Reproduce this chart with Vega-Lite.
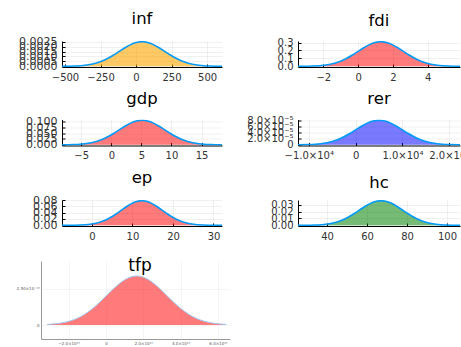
{
  "$schema": "https://vega.github.io/schema/vega-lite/v6.json",
  "background": "white",
  "padding": {"left": 15, "top": 11, "right": 0, "bottom": 0},
  "bounds": "full",
  "spacing": 16,
  "datasets": {
    "inf": [
      {"x": -598, "y": 0.00000075}, {"x": -518, "y": 0.0000055}, {"x": -438, "y": 0.000028}, {"x": -358, "y": 0.00011},
      {"x": -278, "y": 0.000338}, {"x": -238, "y": 0.000541}, {"x": -198, "y": 0.000812}, {"x": -158, "y": 0.001145},
      {"x": -118, "y": 0.001516}, {"x": -78, "y": 0.001887}, {"x": -38, "y": 0.002206}, {"x": 2, "y": 0.002423},
      {"x": 42, "y": 0.0025}, {"x": 82, "y": 0.002423}, {"x": 122, "y": 0.002206}, {"x": 162, "y": 0.001887},
      {"x": 202, "y": 0.001516}, {"x": 242, "y": 0.001145}, {"x": 282, "y": 0.000812}, {"x": 322, "y": 0.000541},
      {"x": 362, "y": 0.000338}, {"x": 442, "y": 0.00011}, {"x": 522, "y": 0.000028}, {"x": 602, "y": 0.0000055},
      {"x": 682, "y": 0.00000075}
    ],
    "fdi": [
      {"x": -3.9, "y": 0.0001}, {"x": -3.25, "y": 0.0007}, {"x": -2.6, "y": 0.0034}, {"x": -1.95, "y": 0.0136},
      {"x": -1.3, "y": 0.0419}, {"x": -0.975, "y": 0.0671}, {"x": -0.65, "y": 0.1007}, {"x": -0.325, "y": 0.1419},
      {"x": 0, "y": 0.188}, {"x": 0.325, "y": 0.234}, {"x": 0.65, "y": 0.2736}, {"x": 0.975, "y": 0.3005},
      {"x": 1.3, "y": 0.31}, {"x": 1.625, "y": 0.3005}, {"x": 1.95, "y": 0.2736}, {"x": 2.275, "y": 0.234},
      {"x": 2.6, "y": 0.188}, {"x": 2.925, "y": 0.1419}, {"x": 3.25, "y": 0.1007}, {"x": 3.575, "y": 0.0671},
      {"x": 3.9, "y": 0.0419}, {"x": 4.55, "y": 0.0136}, {"x": 5.2, "y": 0.0034}, {"x": 5.85, "y": 0.0007},
      {"x": 6.5, "y": 0.0001}
    ],
    "gdp": [
      {"x": -10.1, "y": 0.00003}, {"x": -8.2, "y": 0.00023}, {"x": -6.3, "y": 0.00117}, {"x": -4.4, "y": 0.0046},
      {"x": -2.5, "y": 0.0142}, {"x": -1.55, "y": 0.0227}, {"x": -0.6, "y": 0.0341}, {"x": 0.35, "y": 0.0481},
      {"x": 1.3, "y": 0.0637}, {"x": 2.25, "y": 0.0793}, {"x": 3.2, "y": 0.0927}, {"x": 4.15, "y": 0.1018},
      {"x": 5.1, "y": 0.105}, {"x": 6.05, "y": 0.1018}, {"x": 7.0, "y": 0.0927}, {"x": 7.95, "y": 0.0793},
      {"x": 8.9, "y": 0.0637}, {"x": 9.85, "y": 0.0481}, {"x": 10.8, "y": 0.0341}, {"x": 11.75, "y": 0.0227},
      {"x": 12.7, "y": 0.0142}, {"x": 14.6, "y": 0.0046}, {"x": 16.5, "y": 0.00117}, {"x": 18.4, "y": 0.00023},
      {"x": 20.3, "y": 0.00003}
    ],
    "rer": [
      {"x": -15000, "y": 2.4e-8}, {"x": -12500, "y": 1.8e-7}, {"x": -10000, "y": 8.9e-7}, {"x": -7500, "y": 3.51e-6},
      {"x": -5000, "y": 1.082e-5}, {"x": -3750, "y": 1.73e-5}, {"x": -2500, "y": 2.598e-5}, {"x": -1250, "y": 3.662e-5},
      {"x": 0, "y": 4.852e-5}, {"x": 1250, "y": 6.038e-5}, {"x": 2500, "y": 7.06e-5}, {"x": 3750, "y": 7.754e-5},
      {"x": 5000, "y": 8.0e-5}, {"x": 6250, "y": 7.754e-5}, {"x": 7500, "y": 7.06e-5}, {"x": 8750, "y": 6.038e-5},
      {"x": 10000, "y": 4.852e-5}, {"x": 11250, "y": 3.662e-5}, {"x": 12500, "y": 2.598e-5}, {"x": 13750, "y": 1.73e-5},
      {"x": 15000, "y": 1.082e-5}, {"x": 17500, "y": 3.51e-6}, {"x": 20000, "y": 8.9e-7}, {"x": 22500, "y": 1.8e-7},
      {"x": 25000, "y": 2.4e-8}
    ],
    "ep": [
      {"x": -8.1, "y": 0.00002}, {"x": -5.55, "y": 0.00017}, {"x": -3.0, "y": 0.00087}, {"x": -0.45, "y": 0.00342},
      {"x": 2.1, "y": 0.01055}, {"x": 3.375, "y": 0.0169}, {"x": 4.65, "y": 0.0253}, {"x": 5.925, "y": 0.0357},
      {"x": 7.2, "y": 0.0473}, {"x": 8.475, "y": 0.0589}, {"x": 9.75, "y": 0.0688}, {"x": 11.025, "y": 0.0756},
      {"x": 12.3, "y": 0.078}, {"x": 13.575, "y": 0.0756}, {"x": 14.85, "y": 0.0688}, {"x": 16.125, "y": 0.0589},
      {"x": 17.4, "y": 0.0473}, {"x": 18.675, "y": 0.0357}, {"x": 19.95, "y": 0.0253}, {"x": 21.225, "y": 0.0169},
      {"x": 22.5, "y": 0.01055}, {"x": 25.05, "y": 0.00342}, {"x": 27.6, "y": 0.00087}, {"x": 30.15, "y": 0.00017},
      {"x": 32.7, "y": 0.00002}
    ],
    "hc": [
      {"x": 23, "y": 0.00001}, {"x": 28.5, "y": 0.00008}, {"x": 34, "y": 0.0004}, {"x": 39.5, "y": 0.00158},
      {"x": 45, "y": 0.0049}, {"x": 47.75, "y": 0.0078}, {"x": 50.5, "y": 0.0117}, {"x": 53.25, "y": 0.0165},
      {"x": 56, "y": 0.0218}, {"x": 58.75, "y": 0.0272}, {"x": 61.5, "y": 0.0318}, {"x": 64.25, "y": 0.0349},
      {"x": 67, "y": 0.036}, {"x": 69.75, "y": 0.0349}, {"x": 72.5, "y": 0.0318}, {"x": 75.25, "y": 0.0272},
      {"x": 78, "y": 0.0218}, {"x": 80.75, "y": 0.0165}, {"x": 83.5, "y": 0.0117}, {"x": 86.25, "y": 0.0078},
      {"x": 89, "y": 0.0049}, {"x": 94.5, "y": 0.00158}, {"x": 100, "y": 0.0004}, {"x": 105.5, "y": 0.00008},
      {"x": 111, "y": 0.00001}
    ],
    "tfp": [
      {"x": -3.15e15, "y": 3.8e-18}, {"x": -2.35e15, "y": 1.49e-17}, {"x": -1.55e15, "y": 4.6e-17}, {"x": -1.15e15, "y": 7.35e-17},
      {"x": -7.5e14, "y": 1.104e-16}, {"x": -3.5e14, "y": 1.557e-16}, {"x": 5e13, "y": 2.062e-16}, {"x": 4.5e14, "y": 2.566e-16},
      {"x": 8.5e14, "y": 3.0e-16}, {"x": 1.25e15, "y": 3.295e-16}, {"x": 1.65e15, "y": 3.4e-16}, {"x": 2.05e15, "y": 3.295e-16},
      {"x": 2.45e15, "y": 3.0e-16}, {"x": 2.85e15, "y": 2.566e-16}, {"x": 3.25e15, "y": 2.062e-16}, {"x": 3.65e15, "y": 1.557e-16},
      {"x": 4.05e15, "y": 1.104e-16}, {"x": 4.45e15, "y": 7.35e-17}, {"x": 4.85e15, "y": 4.6e-17}, {"x": 5.65e15, "y": 1.49e-17},
      {"x": 6.45e15, "y": 3.8e-18}
    ]
  },
  "vconcat": [
    {
      "columns": 2,
      "align": "each",
      "bounds": "full",
      "spacing": {"row": 8.5, "column": 23},
      "concat": [
        {
          "title": {"text": "inf"},
          "width": 160, "height": 26,
          "data": {"name": "inf"},
          "encoding": {
            "x": {"field": "x", "type": "quantitative", "title": null, "scale": {"domain": [-521, 605], "nice": false, "zero": false}, "axis": {"values": [-500, -250, 0, 250, 500], "format": "d"}},
            "y": {"field": "y", "type": "quantitative", "title": null, "scale": {"domain": [-0.000075, 0.002575], "nice": false, "zero": false}, "axis": {"values": [0, 0.0005, 0.001, 0.0015, 0.002, 0.0025], "format": ".4f", "minExtent": 47, "labelFontSize": 11}}
          },
          "layer": [
            {"mark": {"type": "area", "interpolate": "monotone", "clip": true, "color": "#ffa500", "fillOpacity": 0.6}, "encoding": {"y2": {"datum": 0}}},
            {"mark": {"type": "line", "interpolate": "monotone", "clip": true, "color": "#009afa", "strokeWidth": 1.6}}
          ]
        },
        {
          "title": {"text": "fdi"},
          "width": 162, "height": 26,
          "data": {"name": "fdi"},
          "encoding": {
            "x": {"field": "x", "type": "quantitative", "title": null, "scale": {"domain": [-3.45, 5.85], "nice": false, "zero": false}, "axis": {"values": [-2, 0, 2, 4], "format": "d"}},
            "y": {"field": "y", "type": "quantitative", "title": null, "scale": {"domain": [-0.0093, 0.3193], "nice": false, "zero": false}, "axis": {"values": [0, 0.1, 0.2, 0.3], "format": ".1f", "minExtent": 53}}
          },
          "layer": [
            {"mark": {"type": "area", "interpolate": "monotone", "clip": true, "color": "#ff0000", "fillOpacity": 0.52}, "encoding": {"y2": {"datum": 0}}},
            {"mark": {"type": "line", "interpolate": "monotone", "clip": true, "color": "#009afa", "strokeWidth": 1.6}}
          ]
        },
        {
          "title": {"text": "gdp"},
          "width": 160, "height": 26,
          "data": {"name": "gdp"},
          "encoding": {
            "x": {"field": "x", "type": "quantitative", "title": null, "scale": {"domain": [-8.2, 18.4], "nice": false, "zero": false}, "axis": {"values": [-5, 0, 5, 10, 15], "format": "d"}},
            "y": {"field": "y", "type": "quantitative", "title": null, "scale": {"domain": [-0.00315, 0.10815], "nice": false, "zero": false}, "axis": {"values": [0, 0.025, 0.05, 0.075, 0.1], "format": ".3f", "minExtent": 47, "labelFontSize": 11}}
          },
          "layer": [
            {"mark": {"type": "area", "interpolate": "monotone", "clip": true, "color": "#ff0000", "fillOpacity": 0.52}, "encoding": {"y2": {"datum": 0}}},
            {"mark": {"type": "line", "interpolate": "monotone", "clip": true, "color": "#009afa", "strokeWidth": 1.6}}
          ]
        },
        {
          "title": {"text": "rer"},
          "width": 162, "height": 26,
          "data": {"name": "rer"},
          "encoding": {
            "x": {"field": "x", "type": "quantitative", "title": null, "scale": {"domain": [-12300, 22300], "nice": false, "zero": false}, "axis": {"values": [-10000, 0, 10000, 20000], "labelExpr": "datum.value == 0 ? '0' : format(datum.value / 10000, '.1f') + '×10⁴'"}},
            "y": {"field": "y", "type": "quantitative", "title": null, "scale": {"domain": [-0.0000024, 0.0000824], "nice": false, "zero": false}, "axis": {"values": [0, 0.00002, 0.00004, 0.00006, 0.00008], "labelExpr": "datum.value == 0 ? '0' : format(datum.value * 100000, '.1f') + '×10⁻⁵'", "minExtent": 53}}
          },
          "layer": [
            {"mark": {"type": "area", "interpolate": "monotone", "clip": true, "color": "#0000ff", "fillOpacity": 0.52}, "encoding": {"y2": {"datum": 0}}},
            {"mark": {"type": "line", "interpolate": "monotone", "clip": true, "color": "#009afa", "strokeWidth": 1.6}}
          ]
        },
        {
          "title": {"text": "ep"},
          "width": 160, "height": 26,
          "data": {"name": "ep"},
          "encoding": {
            "x": {"field": "x", "type": "quantitative", "title": null, "scale": {"domain": [-7.4, 32.1], "nice": false, "zero": false}, "axis": {"values": [0, 10, 20, 30], "format": "d"}},
            "y": {"field": "y", "type": "quantitative", "title": null, "scale": {"domain": [-0.00234, 0.08034], "nice": false, "zero": false}, "axis": {"values": [0, 0.02, 0.04, 0.06, 0.08], "format": ".2f", "minExtent": 47, "labelFontSize": 11}}
          },
          "layer": [
            {"mark": {"type": "area", "interpolate": "monotone", "clip": true, "color": "#ff0000", "fillOpacity": 0.52}, "encoding": {"y2": {"datum": 0}}},
            {"mark": {"type": "line", "interpolate": "monotone", "clip": true, "color": "#009afa", "strokeWidth": 1.6}}
          ]
        },
        {
          "title": {"text": "hc"},
          "width": 162, "height": 26,
          "data": {"name": "hc"},
          "encoding": {
            "x": {"field": "x", "type": "quantitative", "title": null, "scale": {"domain": [25.5, 106.5], "nice": false, "zero": false}, "axis": {"values": [40, 60, 80, 100], "format": "d"}},
            "y": {"field": "y", "type": "quantitative", "title": null, "scale": {"domain": [-0.00108, 0.03708], "nice": false, "zero": false}, "axis": {"values": [0, 0.01, 0.02, 0.03], "format": ".2f", "minExtent": 53}}
          },
          "layer": [
            {"mark": {"type": "area", "interpolate": "monotone", "clip": true, "color": "#008000", "fillOpacity": 0.54}, "encoding": {"y2": {"datum": 0}}},
            {"mark": {"type": "line", "interpolate": "monotone", "clip": true, "color": "#009afa", "strokeWidth": 1.6}}
          ]
        }
      ]
    },
    {
      "title": {"text": "tfp", "offset": -14, "fontSize": 17, "dx": -6},
      "width": 168, "height": 78,
      "data": {"name": "tfp"},
      "encoding": {
        "x": {"field": "x", "type": "quantitative", "title": null, "scale": {"domain": [-3.48e15, 6.65e15], "range": [-21, 168], "nice": false, "zero": false}, "axis": {"values": [-2e15, 0, 2e15, 4e15, 6e15], "labelExpr": "datum.value == 0 ? '0' : format(datum.value / 1e15, '.1f') + '×10¹⁵'", "labelFontSize": 4, "labelColor": "#555", "ticks": false, "labelPadding": 2, "domainColor": "#999", "gridOpacity": 0.07}},
        "y": {"field": "y", "type": "quantitative", "title": null, "scale": {"domain": [-9.7e-17, 4.44e-16], "nice": false, "zero": false}, "axis": {"values": [0, 2.5e-16], "labelExpr": "datum.value == 0 ? '0' : format(datum.value * 1e16, '.2f') + '×10⁻¹⁶'", "labelFontSize": 4, "labelColor": "#555", "ticks": false, "labelPadding": 2, "offset": 21, "domainColor": "#999", "gridOpacity": 0.07, "minExtent": 26}}
      },
      "layer": [
        {"mark": {"type": "area", "interpolate": "monotone", "clip": false, "color": "#ff0000", "fillOpacity": 0.52}, "encoding": {"y2": {"datum": 0}}},
        {"mark": {"type": "line", "interpolate": "monotone", "clip": false, "color": "#9cc9f2", "strokeWidth": 1}}
      ]
    }
  ],
  "config": {
    "view": {"stroke": null},
    "font": "DejaVu Sans",
    "title": {"font": "DejaVu Sans", "fontSize": 16.5, "fontWeight": "normal", "color": "#000", "baseline": "alphabetic", "offset": 8, "anchor": "middle", "frame": "group"},
    "axis": {
      "labelFont": "DejaVu Sans",
      "labelFontSize": 10,
      "labelColor": "#333",
      "labelOverlap": false,
      "labelFlush": false,
      "labelBound": false,
      "domainColor": "#000",
      "domainWidth": 1,
      "tickColor": "#000",
      "tickSize": -3,
      "labelPadding": 8,
      "grid": true,
      "gridColor": "#000",
      "gridOpacity": 0.1,
      "gridWidth": 0.6
    }
  }
}
